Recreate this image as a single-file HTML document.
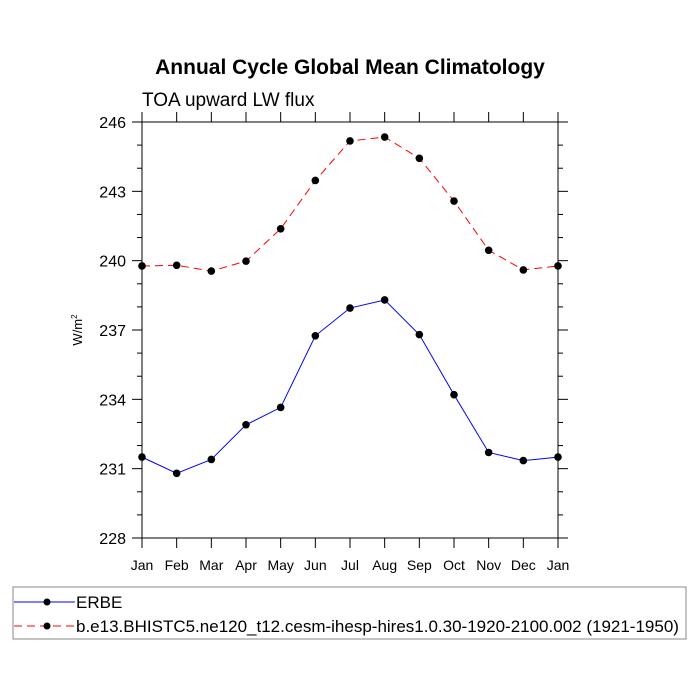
<!DOCTYPE html>
<html><head><meta charset="utf-8"><style>
body{margin:0;background:#fff;}
svg{display:block;font-family:"Liberation Sans",sans-serif;}
</style></head><body>
<svg id="c" width="700" height="700">
<rect width="700" height="700" fill="#fff"/>
<text x="350" y="74" text-anchor="middle" font-size="21" font-weight="bold">Annual Cycle Global Mean Climatology</text>
<text x="142" y="106" font-size="19">TOA upward LW flux</text>
<text transform="translate(82,330) rotate(-90)" text-anchor="middle" font-size="13">W/m<tspan font-size="8" dy="-5">2</tspan></text>
<g id="ax"></g><g id="series"></g>
<rect x="13" y="587" width="673" height="52" fill="none" stroke="#888"/>
<g>
<line x1="14" y1="602" x2="75" y2="602" stroke="#00f" stroke-width="1"/>
<circle cx="47" cy="602" r="3.5" fill="#000"/>
<text x="76" y="608" font-size="17">ERBE</text></g>
<g>
<line x1="14" y1="626" x2="75" y2="626" stroke="#f00" stroke-width="1" stroke-dasharray="8,5"/>
<circle cx="47" cy="626" r="3.5" fill="#000"/>
<text x="76" y="632" font-size="17">b.e13.BHISTC5.ne120_t12.cesm-ihesp-hires1.0.30-1920-2100.002 (1921-1950)</text></g>
</svg>
<script>
const months=["Jan","Feb","Mar","Apr","May","Jun","Jul","Aug","Sep","Oct","Nov","Dec","Jan"];
const erbe=[231.5,230.8,231.4,232.9,233.65,236.75,237.95,238.3,236.8,234.2,231.7,231.35,231.5];
const model=[239.77,239.8,239.55,239.98,241.38,243.47,245.18,245.35,244.43,242.58,240.45,239.6,239.77];
const yTicks=[228,231,234,237,240,243,246];
const X0=142,X1=558,Y0=122,Y1=538,YMIN=228,YMAX=246;
const xs=i=>X0+i*(X1-X0)/(months.length-1);
const ys=v=>Y1-(v-YMIN)*(Y1-Y0)/(YMAX-YMIN);
const NS="http://www.w3.org/2000/svg";
function mk(t,a,p){const e=document.createElementNS(NS,t);for(const k in a)e.setAttribute(k,a[k]);p.appendChild(e);return e;}
const ax=document.getElementById('ax');
const fr=mk('rect',{x:X0,y:Y0,width:X1-X0,height:Y1-Y0,fill:'none',stroke:'#000','stroke-width':1},ax);


for(let v=YMIN;v<=YMAX;v++){const maj=yTicks.includes(v);const L=maj?10:5;const y=ys(v);
mk('line',{x1:X0-L,y1:y,x2:X0,y2:y,stroke:'#000'},ax);mk('line',{x1:X1,y1:y,x2:X1+L,y2:y,stroke:'#000'},ax);}
yTicks.forEach(v=>{const t=mk('text',{x:X0-16,y:ys(v)+6,'text-anchor':'end','font-size':16},ax);t.textContent=v;

});
months.forEach((m,i)=>{const x=xs(i);
mk('line',{x1:x,y1:Y1,x2:x,y2:Y1+10,stroke:'#000'},ax);mk('line',{x1:x,y1:Y0-10,x2:x,y2:Y0,stroke:'#000'},ax);
const t=mk('text',{x:x,y:Y1+32,'text-anchor':'middle','font-size':14},ax);t.textContent=m;

});
const sg=document.getElementById('series');
function draw(vals,col,dash,name){const g=mk('g',{},sg);


const a={points:vals.map((v,i)=>xs(i)+','+ys(v)).join(' '),fill:'none',stroke:col,'stroke-width':1};
if(dash)a['stroke-dasharray']=dash;mk('polyline',a,g);
vals.forEach((v,i)=>{const c=mk('circle',{cx:xs(i),cy:ys(v),r:3.8,fill:'#000'},g);

});}
draw(erbe,'#00f',null,'erbe-line');
draw(model,'#f00','8,5','model-line');
</script>
</body></html>
